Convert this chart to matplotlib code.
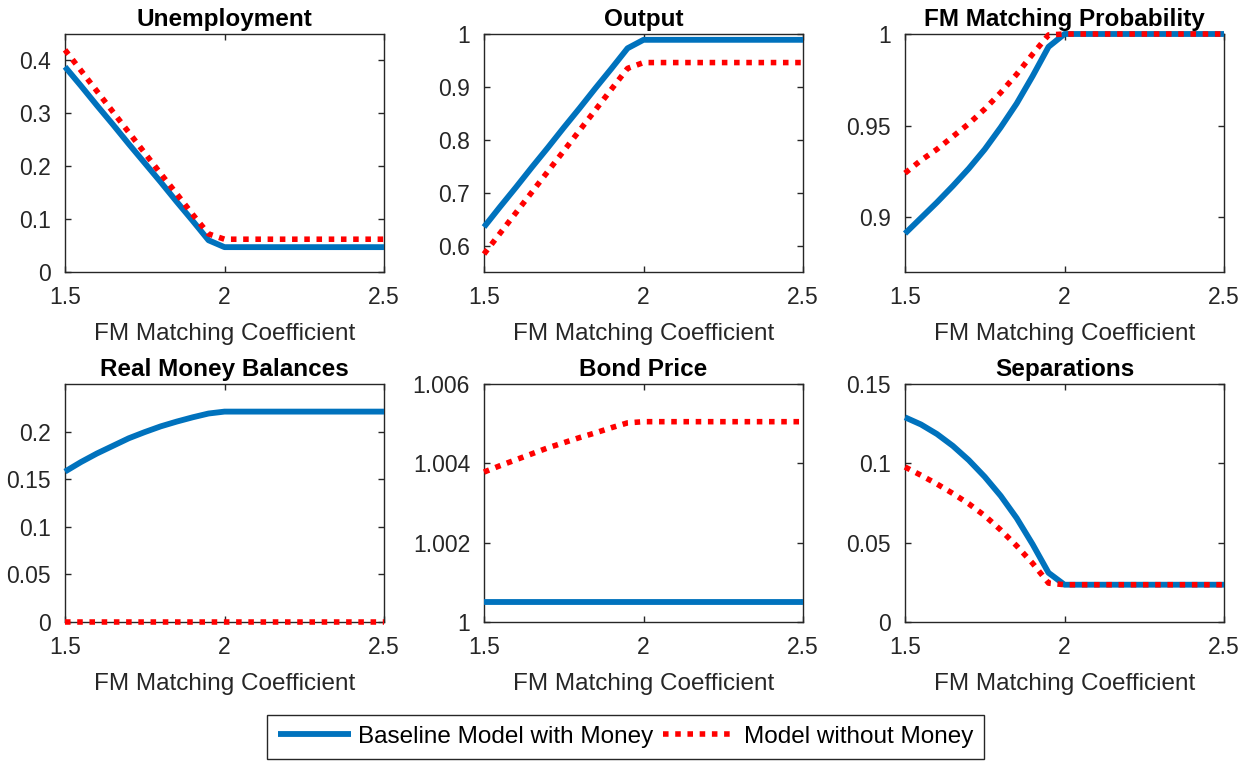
import numpy as np
import matplotlib
matplotlib.use('Agg')
import matplotlib.pyplot as plt

plt.rcParams['font.family'] = ['Liberation Sans', 'DejaVu Sans']

#--------------------------------------------
# Data
#--------------------------------------------

# FM matching coefficient grid (1.5 .. 2.5 in steps of 0.05)
coef = [1.50, 1.55, 1.60, 1.65, 1.70, 1.75, 1.80, 1.85, 1.90, 1.95, 2.00,
        2.05, 2.10, 2.15, 2.20, 2.25, 2.30, 2.35, 2.40, 2.45, 2.50]

unemp_money = [0.388, 0.352, 0.315, 0.279, 0.242, 0.206, 0.170, 0.133, 0.097, 0.060, 0.047,
               0.047, 0.047, 0.047, 0.047, 0.047, 0.047, 0.047, 0.047, 0.047, 0.047]
unemp_nomoney = [0.420, 0.381, 0.342, 0.303, 0.264, 0.225, 0.186, 0.148, 0.109, 0.072, 0.062,
                 0.062, 0.062, 0.062, 0.062, 0.062, 0.062, 0.062, 0.062, 0.062, 0.062]

output_money = [0.635, 0.673, 0.710, 0.748, 0.785, 0.823, 0.860, 0.898, 0.935, 0.973, 0.989,
                0.989, 0.989, 0.989, 0.989, 0.989, 0.989, 0.989, 0.989, 0.989, 0.989]
output_nomoney = [0.584, 0.623, 0.662, 0.701, 0.740, 0.779, 0.818, 0.857, 0.896, 0.935, 0.946,
                  0.946, 0.946, 0.946, 0.946, 0.946, 0.946, 0.946, 0.946, 0.946, 0.946]

fmprob_money = [0.891, 0.8995, 0.908, 0.917, 0.9265, 0.937, 0.949, 0.962, 0.977, 0.993, 1.0,
                1.0, 1.0, 1.0, 1.0, 1.0, 1.0, 1.0, 1.0, 1.0, 1.0]
fmprob_nomoney = [0.924, 0.931, 0.937, 0.944, 0.951, 0.959, 0.968, 0.978, 0.989, 0.9995, 1.0,
                  1.0, 1.0, 1.0, 1.0, 1.0, 1.0, 1.0, 1.0, 1.0, 1.0]

money_money = [0.158, 0.168, 0.177, 0.185, 0.193, 0.1995, 0.2055, 0.2105, 0.215, 0.219, 0.221,
               0.221, 0.221, 0.221, 0.221, 0.221, 0.221, 0.221, 0.221, 0.221, 0.221]
money_nomoney = [0.0] * 21

bond_money = [1.0005] * 21
bond_nomoney = [1.00378, 1.00394, 1.00409, 1.00424, 1.00439, 1.00452, 1.00465, 1.00477, 1.00490,
                1.00502, 1.00505, 1.00505, 1.00505, 1.00505, 1.00505, 1.00505, 1.00505, 1.00505,
                1.00505, 1.00505, 1.00505]

sep_money = [0.129, 0.1245, 0.1185, 0.111, 0.102, 0.0915, 0.0795, 0.0655, 0.049, 0.031, 0.0235,
             0.0235, 0.0235, 0.0235, 0.0235, 0.0235, 0.0235, 0.0235, 0.0235, 0.0235, 0.0235]
sep_nomoney = [0.0977, 0.0925, 0.087, 0.081, 0.0745, 0.067, 0.058, 0.048, 0.037, 0.0245, 0.0235,
               0.0235, 0.0235, 0.0235, 0.0235, 0.0235, 0.0235, 0.0235, 0.0235, 0.0235, 0.0235]

titles = ['Unemployment', 'Output', 'FM Matching Probability',
          'Real Money Balances', 'Bond Price', 'Separations']
series = [(unemp_money, unemp_nomoney), (output_money, output_nomoney),
          (fmprob_money, fmprob_nomoney), (money_money, money_nomoney),
          (bond_money, bond_nomoney), (sep_money, sep_nomoney)]
ylims = [(0, 0.45), (0.55, 1.0), (0.87, 1.0), (0, 0.25), (1.0, 1.006), (0, 0.15)]
yticks = [[0, 0.1, 0.2, 0.3, 0.4], [0.6, 0.7, 0.8, 0.9, 1.0], [0.9, 0.95, 1.0],
          [0, 0.05, 0.1, 0.15, 0.2], [1.0, 1.002, 1.004, 1.006], [0, 0.05, 0.1, 0.15]]
yticklabels = [['0', '0.1', '0.2', '0.3', '0.4'], ['0.6', '0.7', '0.8', '0.9', '1'],
               ['0.9', '0.95', '1'], ['0', '0.05', '0.1', '0.15', '0.2'],
               ['1', '1.002', '1.004', '1.006'], ['0', '0.05', '0.1', '0.15']]
xticks = [1.5, 2, 2.5]
xticklabels = ['1.5', '2', '2.5']

blue = '#0072BD'
red = '#FF0000'
axis_color = '#262626'

#--------------------------------------------
# Make the figure
#--------------------------------------------

fig = plt.figure(figsize=(12.51, 7.61), dpi=100)
lefts = [65 / 1251, 484 / 1251, 905 / 1251]
bottoms = [1 - 272 / 761, 1 - 622 / 761]
w, h = 319 / 1251, 238 / 761

handles = None
for i in range(6):
    ax = fig.add_axes([lefts[i % 3], bottoms[i // 3], w, h])
    y1, y2 = series[i]
    l1, = ax.plot(coef, y1, color=blue, lw=4.2, solid_capstyle='butt', clip_on=False,
                  label='Baseline Model with Money')
    l2, = ax.plot(coef, y2, color=red, lw=4.0, linestyle=(0, (1.0, 1.2)),
                  dash_capstyle='butt', clip_on=False, label='Model without Money')
    handles = [l1, l2]
    ax.set_xlim(1.5, 2.5)
    ax.set_ylim(*ylims[i])
    ax.set_xticks(xticks)
    ax.set_xticklabels(xticklabels)
    ax.set_yticks(yticks[i])
    ax.set_yticklabels(yticklabels[i])
    ax.set_title(titles[i], fontsize=17.5, fontweight='bold', pad=6)
    ax.set_xlabel('FM Matching Coefficient', fontsize=17.5, color=axis_color, labelpad=10)
    ax.tick_params(direction='in', top=True, right=True, length=4, width=1,
                   labelsize=16.5, colors=axis_color, pad=10)
    for s in ax.spines.values():
        s.set_color(axis_color)
        s.set_linewidth(1)
        s.set_zorder(1)

fig.legend(handles=handles, loc='lower center', bbox_to_anchor=(0.5, 0.0),
           ncol=2, fontsize=17.5, frameon=True, fancybox=False, edgecolor=axis_color,
           handlelength=3.0, handletextpad=0.3, columnspacing=0.4,
           borderpad=0.45, borderaxespad=0.1, framealpha=1)

plt.savefig('out.png', dpi=100)
